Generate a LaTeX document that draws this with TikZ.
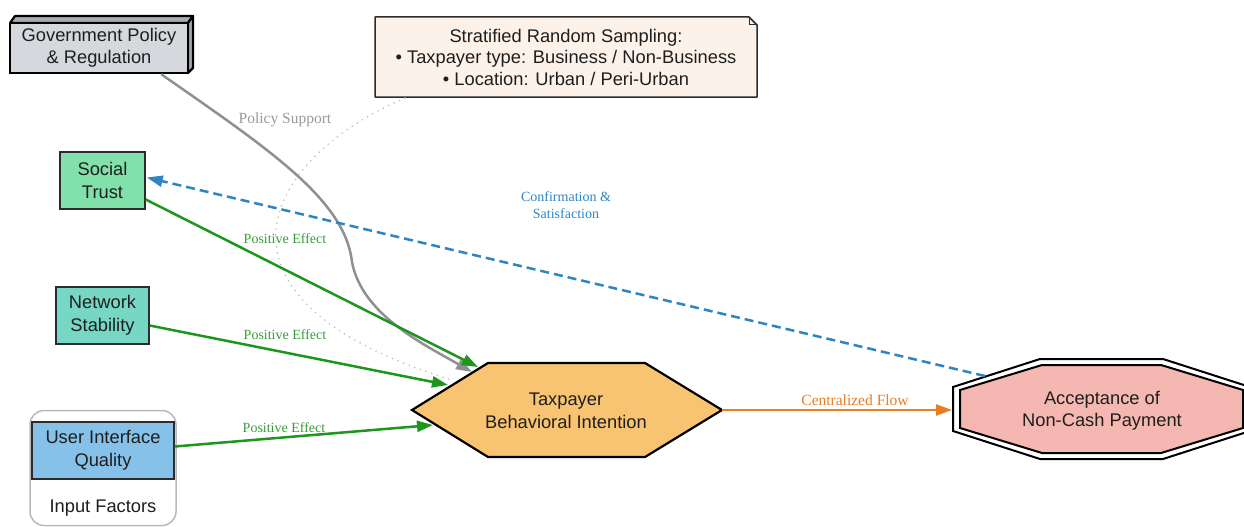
\documentclass[tikz,border=0pt]{standalone}
\usepackage{fontspec}
\setmainfont{Liberation Sans}
\newfontfamily\lblfont{Liberation Serif}
\usetikzlibrary{arrows.meta}
\definecolor{govfill}{HTML}{D5D8DC}
\definecolor{notefill}{HTML}{FDF2E9}
\definecolor{trustfill}{HTML}{82E0AA}
\definecolor{netfill}{HTML}{76D7C4}
\definecolor{uifill}{HTML}{85C1E9}
\definecolor{hexfill}{HTML}{F8C471}
\definecolor{octfill}{HTML}{F5B7B1}
\definecolor{posgreen}{HTML}{1E961E}
\definecolor{poslbl}{HTML}{3C9B3C}
\definecolor{polgray}{HTML}{8E9091}
\definecolor{pollbl}{HTML}{9A9A9A}
\definecolor{confblue}{HTML}{2E86C1}
\definecolor{floworange}{HTML}{E67E22}
\definecolor{txt}{HTML}{1E1E1E}
\definecolor{border}{HTML}{2B2B2B}
\begin{document}
\begin{tikzpicture}[x=1pt,y=-1pt,
  nodetext/.style={text=txt,font=\fontsize{18.3}{22.5}\selectfont,align=center},
  factor/.style={nodetext,draw=border,line width=1.5pt,inner sep=0pt,rectangle},
  lbl/.style={font=\lblfont\fontsize{14}{16.5}\selectfont,align=center,inner sep=1pt},
  biglbl/.style={lbl,font=\lblfont\fontsize{15.5}{18}\selectfont},
  poseffect/.style={draw=posgreen,line width=2.5pt,-{Triangle[length=16pt,width=11pt]}},
  conn/.style={line width=2.5pt}]
\useasboundingbox (0,0) rectangle (1244,527);
\clip (0,0) rectangle (1244,527);
\fill[white] (0,0) rectangle (1244,527);

% cluster
\node[draw=gray!55,line width=1.5pt,rounded corners=14pt,minimum width=146pt,minimum height=115pt,inner sep=0pt] (cluster) at (103,468) {};
\node[nodetext] (clusterlbl) at (103,508) {Input Factors};

% government box (3D)
\filldraw[fill=govfill!80!black,draw=black,line width=2.2pt,line join=round]
  (10,23) -- (15,16) -- (193,16) -- (188,23) -- cycle;
\filldraw[fill=govfill!80!black,draw=black,line width=2.2pt,line join=round]
  (188,23) -- (193,16) -- (193,68) -- (188,73) -- cycle;
\node[factor,fill=govfill,draw=black,line width=2.5pt,minimum width=178pt,minimum height=50pt] (gov) at (99,48) {Government Policy\\\& Regulation};

% note
\filldraw[fill=notefill,draw=border,line width=1.5pt,line join=round]
  (375,17) -- (749,17) -- (757,25) -- (757,97) -- (375,97) -- cycle;
\draw[border,line width=1pt] (749,17) -- (749,25) -- (757,25);
\node[nodetext,font=\fontsize{18.3}{21.5}\selectfont] (note) at (566,57) {Stratified Random Sampling:\\\textbullet{} Taxpayer type: Business / Non-Business\\\textbullet{} Location: Urban / Peri-Urban};
\coordinate (noteS) at (405,98);

% factor boxes
\node[factor,fill=trustfill,minimum width=85pt,minimum height=57pt] (trust) at (102.5,180.5) {Social\\Trust};
\node[factor,fill=netfill,minimum width=93pt,minimum height=57pt] (net) at (102.5,315.5) {Network\\Stability};
\node[factor,fill=uifill,minimum width=142pt,minimum height=57pt] (ui) at (103,450.5) {User Interface\\Quality};

% hexagon
\filldraw[fill=hexfill,draw=black,line width=2.2pt,line join=miter]
  (412,410) -- (488,363) -- (645,363) -- (722,410) -- (645,457) -- (488,457) -- cycle;
\node[nodetext] (hex) at (566,411) {Taxpayer\\Behavioral Intention};
\coordinate (hexR) at (722,410);
\coordinate (hexT) at (478,367);
\coordinate (hexG) at (472,372);
\coordinate (hexN) at (448,385);
\coordinate (hexU) at (433,425);
\coordinate (hexD) at (452,380);

% octagon (double)
\filldraw[fill=white,draw=black,line width=2pt]
  (953,387) -- (1040,359) -- (1163,359) -- (1250,387) -- (1250,431) -- (1163,459) -- (1040,459) -- (953,431) -- cycle;
\filldraw[fill=octfill,draw=black,line width=2pt]
  (960,390) -- (1042,365) -- (1161,365) -- (1243,390) -- (1243,428) -- (1161,453) -- (1042,453) -- (960,428) -- cycle;
\node[nodetext] (oct) at (1102,411) {Acceptance of\\Non-Cash Payment};
\coordinate (octL) at (952,410);
\coordinate (octA) at (985,376);

% dotted note link
\draw[gray!55,line width=1.7pt,line cap=round,dash pattern=on 0pt off 6pt]
  (noteS) .. controls (260,160) and (190,300) .. (hexD);

% policy support
\draw[conn,draw=polgray,-{Triangle[length=16pt,width=11pt]}]
  (gov.south east) ++(-28,0) .. controls (270,150) and (345,200) .. (352,262)
  .. controls (362,315) and (425,345) .. (hexG);
\node[biglbl,text=pollbl] (polLbl) at (285,120) {Policy Support};

% positive effects
\draw[poseffect] (trust.east) ++(0,19) -- (hexT);
\draw[poseffect] (net.east) ++(0,10) -- (hexN);
\draw[poseffect] (ui.east) ++(0,-4) -- (hexU);
\node[lbl,text=poslbl] (pe1) at (285,239) {Positive Effect};
\node[lbl,text=poslbl] (pe2) at (285,335) {Positive Effect};
\node[lbl,text=poslbl] (pe3) at (284,428) {Positive Effect};

% confirmation
\draw[conn,draw=confblue,dash pattern=on 9pt off 5pt,-{Triangle[length=16pt,width=11pt]}]
  (octA) -- ([xshift=1pt,yshift=3pt]trust.east);
\node[lbl,text=confblue] (confLbl) at (566,205) {Confirmation \&\\Satisfaction};

% centralized flow
\draw[conn,draw=floworange,-{Triangle[length=16pt,width=11pt]}] (hexR) -- (octL);
\node[biglbl,text=floworange] (flowLbl) at (855,400) {Centralized Flow};
\end{tikzpicture}
\end{document}
